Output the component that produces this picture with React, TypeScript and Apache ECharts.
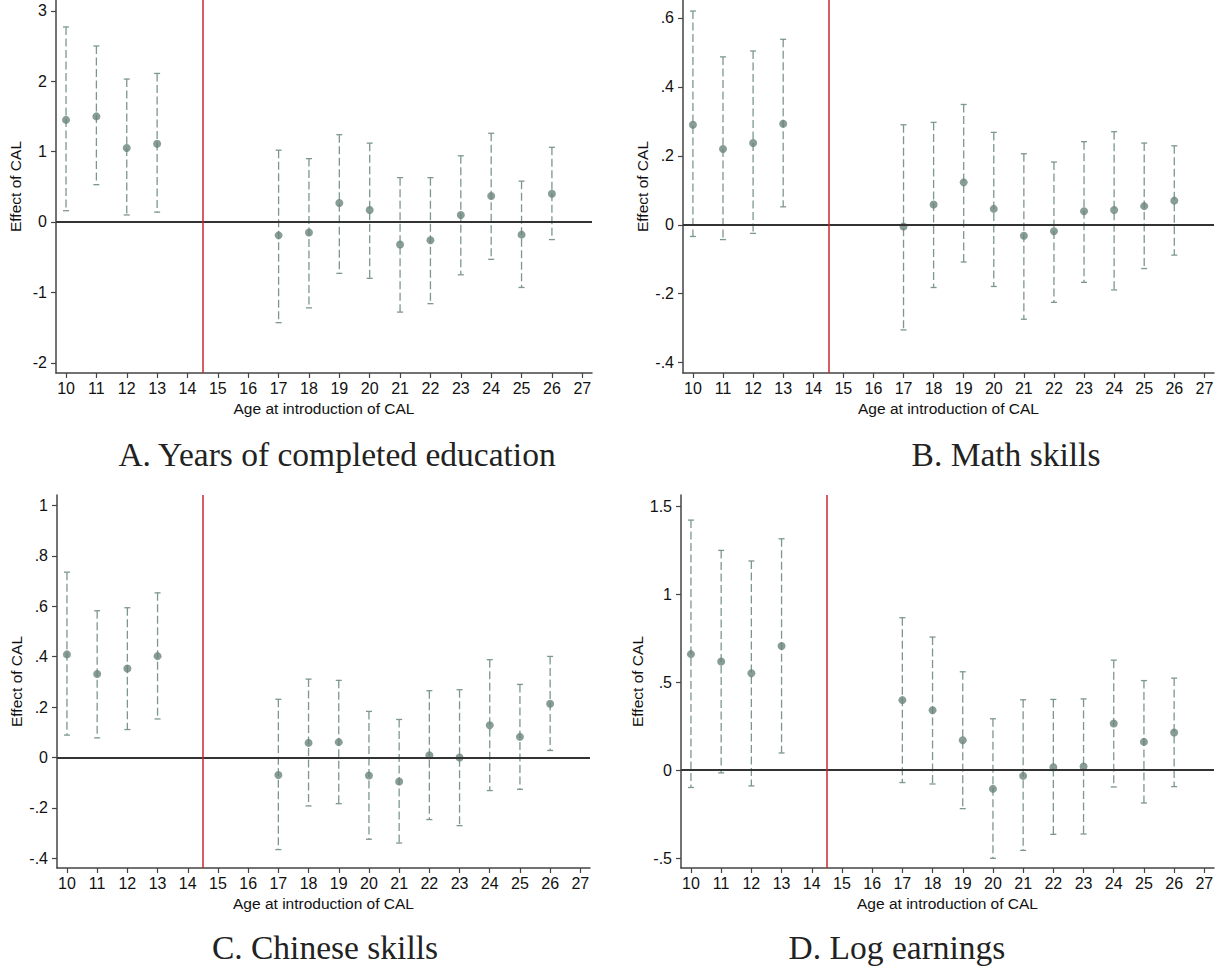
import React, { useEffect, useRef } from "react";
import * as echarts from "echarts";

const ages = [10, 11, 12, 13, 17, 18, 19, 20, 21, 22, 23, 24, 25, 26];
const xTicks = [10, 11, 12, 13, 14, 15, 16, 17, 18, 19, 20, 21, 22, 23, 24, 25, 26, 27];

const eduPoint = [1.45, 1.5, 1.05, 1.11, -0.19, -0.15, 0.27, 0.17, -0.32, -0.26, 0.1, 0.37, -0.18, 0.4];
const eduLow = [0.16, 0.53, 0.1, 0.14, -1.43, -1.22, -0.73, -0.8, -1.28, -1.16, -0.75, -0.53, -0.93, -0.25];
const eduHigh = [2.77, 2.5, 2.03, 2.11, 1.02, 0.9, 1.24, 1.12, 0.63, 0.63, 0.94, 1.26, 0.58, 1.06];
const eduTicks = [-2, -1, 0, 1, 2, 3];

const mathPoint = [0.29, 0.22, 0.237, 0.293, -0.005, 0.059, 0.123, 0.046, -0.032, -0.019, 0.039, 0.043, 0.054, 0.07];
const mathLow = [-0.034, -0.043, -0.025, 0.052, -0.305, -0.182, -0.108, -0.179, -0.274, -0.225, -0.167, -0.189, -0.127, -0.088];
const mathHigh = [0.62, 0.487, 0.504, 0.538, 0.29, 0.297, 0.349, 0.268, 0.206, 0.182, 0.241, 0.27, 0.237, 0.229];
const mathTicks = [-0.4, -0.2, 0, 0.2, 0.4, 0.6];

const chnPoint = [0.409, 0.331, 0.353, 0.402, -0.069, 0.058, 0.061, -0.071, -0.095, 0.009, 0.0, 0.128, 0.082, 0.213];
const chnLow = [0.089, 0.078, 0.111, 0.153, -0.365, -0.192, -0.183, -0.324, -0.339, -0.246, -0.27, -0.131, -0.126, 0.028];
const chnHigh = [0.735, 0.582, 0.594, 0.653, 0.231, 0.311, 0.306, 0.183, 0.151, 0.265, 0.269, 0.388, 0.29, 0.401];
const chnTicks = [-0.4, -0.2, 0, 0.2, 0.4, 0.6, 0.8, 1];

const earnPoint = [0.659, 0.617, 0.551, 0.705, 0.398, 0.341, 0.17, -0.106, -0.032, 0.017, 0.021, 0.265, 0.161, 0.214];
const earnLow = [-0.098, -0.015, -0.089, 0.098, -0.07, -0.078, -0.218, -0.5, -0.455, -0.364, -0.362, -0.095, -0.186, -0.093];
const earnHigh = [1.42, 1.248, 1.188, 1.314, 0.866, 0.756, 0.559, 0.292, 0.4, 0.402, 0.405, 0.625, 0.509, 0.523];
const earnTicks = [-0.5, 0, 0.5, 1, 1.5];

const panelTitles = [
  "A. Years of completed education",
  "B. Math skills",
  "C. Chinese skills",
  "D. Log earnings",
];
const xAxisName = "Age at introduction of CAL";
const yAxisName = "Effect of CAL";
const cutoff = 14.5;

const panels = [
  { point: eduPoint, low: eduLow, high: eduHigh, ticks: eduTicks, min: -2.145, max: 3.153 },
  { point: mathPoint, low: mathLow, high: mathHigh, ticks: mathTicks, min: -0.43, max: 0.652 },
  { point: chnPoint, low: chnLow, high: chnHigh, ticks: chnTicks, min: -0.438, max: 1.041 },
  { point: earnPoint, low: earnLow, high: earnHigh, ticks: earnTicks, min: -0.555, max: 1.5625 },
];

const grids = [
  { left: 56, top: 0, width: 536, height: 373 },
  { left: 683, top: 0, width: 531, height: 373 },
  { left: 57, top: 495, width: 533, height: 373 },
  { left: 681, top: 495, width: 533, height: 373 },
];

const titlePos = [
  { x: 337, y: 454 },
  { x: 1006, y: 454 },
  { x: 325, y: 947 },
  { x: 897, y: 947 },
];

const barColor = "#7d978f";
const dotColor = "#6a847a";
const axisColor = "#444444";
const sansFont = "Liberation Sans";

function stataFmt(v: number): string {
  const r = Math.round(v * 1000) / 1000;
  let s = String(r);
  s = s.replace(/^0\./, ".").replace(/^-0\./, "-.");
  return s;
}

export default function App() {
  const ref = useRef<HTMLDivElement>(null);
  useEffect(() => {
    if (!ref.current) return;
    const chart = echarts.init(ref.current, undefined, { renderer: "svg" });

    const xAxes: any[] = [];
    const yAxes: any[] = [];
    const series: any[] = [];

    panels.forEach((p, i) => {
      xAxes.push({
        gridIndex: i,
        type: "value",
        min: 9.67,
        max: 27.32,
        name: xAxisName,
        nameLocation: "middle",
        nameGap: 27,
        nameTextStyle: { fontFamily: sansFont, fontSize: 15.5, color: "#111" },
        axisLine: { show: true, onZero: false, lineStyle: { color: axisColor, width: 1.5 } },
        axisTick: { show: true, length: 5, customValues: xTicks, lineStyle: { color: axisColor, width: 1.2 } },
        axisLabel: {
          customValues: xTicks,
          margin: 7,
          fontFamily: sansFont,
          fontSize: 16,
          color: "#111",
        },
        splitLine: { show: false },
      });
      yAxes.push({
        gridIndex: i,
        type: "value",
        min: p.min,
        max: p.max,
        name: yAxisName,
        nameLocation: "middle",
        nameGap: 33,
        nameRotate: 90,
        nameTextStyle: { fontFamily: sansFont, fontSize: 15.5, color: "#111" },
        axisLine: { show: true, onZero: false, lineStyle: { color: axisColor, width: 1.5 } },
        axisTick: { show: true, length: 5, customValues: p.ticks, lineStyle: { color: axisColor, width: 1.2 } },
        axisLabel: {
          customValues: p.ticks,
          margin: 9,
          fontFamily: sansFont,
          fontSize: 16,
          color: "#111",
          formatter: (v: number) => stataFmt(v),
        },
        splitLine: { show: false },
      });

      series.push({
        type: "custom",
        xAxisIndex: i,
        yAxisIndex: i,
        silent: true,
        data: ages.map((a, k) => [a, p.low[k], p.high[k]]),
        encode: { x: 0, y: [1, 2] },
        renderItem: (params: any, api: any) => {
          const x = api.value(0);
          const lo = api.coord([x, api.value(1)]);
          const hi = api.coord([x, api.value(2)]);
          const cw = 3;
          const st = { stroke: barColor, lineWidth: 1.3 };
          return {
            type: "group",
            children: [
              {
                type: "line",
                shape: { x1: hi[0], y1: hi[1], x2: lo[0], y2: lo[1] },
                style: { ...st, lineDash: [8, 3.5] },
              },
              { type: "line", shape: { x1: hi[0] - cw, y1: hi[1], x2: hi[0] + cw, y2: hi[1] }, style: st },
              { type: "line", shape: { x1: lo[0] - cw, y1: lo[1], x2: lo[0] + cw, y2: lo[1] }, style: st },
            ],
          };
        },
        z: 2,
      });

      series.push({
        type: "scatter",
        xAxisIndex: i,
        yAxisIndex: i,
        symbol: "circle",
        symbolSize: 8,
        itemStyle: { color: dotColor },
        data: ages.map((a, k) => [a, p.point[k]]),
        z: 4,
        markLine: {
          silent: true,
          symbol: "none",
          label: { show: false },
          animation: false,
          data: [
            { yAxis: 0, lineStyle: { color: "#333333", width: 1.8, type: "solid" } },
            { xAxis: cutoff, lineStyle: { color: "#c42a2f", width: 1.5, type: "solid" } },
          ],
        },
      });
    });

    chart.setOption({
      animation: false,
      backgroundColor: "#ffffff",
      grid: grids.map((g) => ({ ...g, containLabel: false })),
      xAxis: xAxes,
      yAxis: yAxes,
      series,
      graphic: panelTitles.map((t, i) => ({
        type: "text",
        x: titlePos[i].x,
        y: titlePos[i].y,
        style: {
          text: t,
          font: '33.5px "Liberation Serif"',
          fill: "#222222",
          align: "center",
          verticalAlign: "middle",
          textAlign: "center",
          textVerticalAlign: "middle",
        },
      })),
    });

    return () => {
      chart.dispose();
    };
  }, []);

  return (
    <div
      ref={ref}
      style={{ position: "absolute", left: 0, top: 0, width: 1222, height: 972, background: "#fff" }}
    />
  );
}
